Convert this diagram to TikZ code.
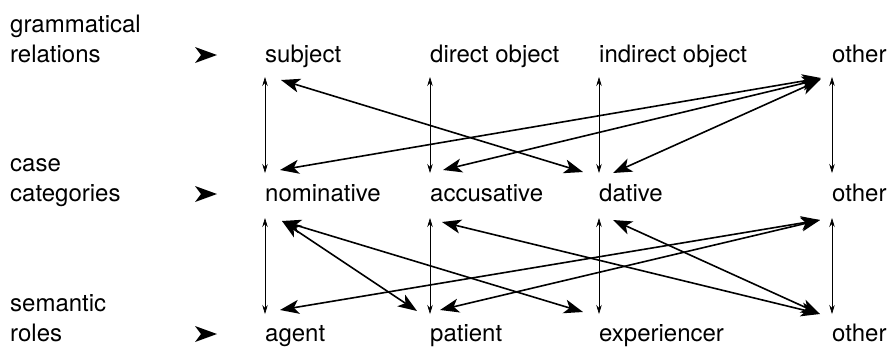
\documentclass[tikz,border=0pt]{standalone}
\usepackage{fontspec}
\setmainfont{TeX Gyre Heros}
\usetikzlibrary{arrows.meta}
\begin{document}
\begin{tikzpicture}[x=1pt,y=-1pt,
  lbl/.style={anchor=base west,inner sep=0pt,font=\fontsize{24}{30}\selectfont},
  side/.style={lbl,align=left},
  link/.style={{Stealth[length=9pt,width=5.5pt]}-{Stealth[length=9pt,width=5.5pt]},line width=0.7pt},
  cross/.style={{Stealth[length=19pt,width=14pt,inset=5pt]}-{Stealth[length=19pt,width=14pt,inset=5pt]},line width=1.6pt},
  pointer/.pic={\fill (-11,-8) -- (11,0) -- (-11,8) -- (-5,0) -- cycle;}]
\useasboundingbox (0,0) rectangle (888,346);

% level labels (anchored on the baseline of their last line)
\node[side] (gr) at (10,62) {grammatical\\relations};
\node[side] (cc) at (10,201) {case\\categories};
\node[side] (sr) at (10,341) {semantic\\roles};
\pic at (206,55) {pointer};
\pic at (206,194) {pointer};
\pic at (206,334) {pointer};

% grammatical relations
\node[lbl] (subj)   at (265,62) {subject};
\node[lbl] (dobj)   at (430,62) {direct object};
\node[lbl] (iobj)   at (599,62) {indirect object};
\node[lbl] (gother) at (832,62) {other};
% case categories
\node[lbl] (nom)    at (265,201) {nominative};
\node[lbl] (acc)    at (430,201) {accusative};
\node[lbl] (dat)    at (599,201) {dative};
\node[lbl] (cother) at (832,201) {other};
% semantic roles
\node[lbl] (agent)  at (265,341) {agent};
\node[lbl] (pat)    at (430,341) {patient};
\node[lbl] (exper)  at (599,341) {experiencer};
\node[lbl] (sother) at (832,341) {other};

% straight correspondences
\foreach \a/\b in {subj/nom,dobj/acc,iobj/dat,gother/cother}
  \draw[link] ([shift={(0,15)}]\a.base west) -- ([shift={(0,-28)}]\b.base west);
\foreach \a/\b in {nom/agent,acc/pat,dat/exper,cother/sother}
  \draw[link] ([shift={(0,17)}]\a.base west) -- ([shift={(0,-27)}]\b.base west);

% crossing correspondences: relations / cases
\draw[cross] ([shift={(16,18)}]subj.base west)    -- ([shift={(-16,-29)}]dat.base west);
\draw[cross] ([shift={(-11,16)}]gother.base west) -- ([shift={(15,-31)}]nom.base west);
\draw[cross] ([shift={(-11,17)}]gother.base west) -- ([shift={(13,-31)}]acc.base west);
\draw[cross] ([shift={(-12,18)}]gother.base west) -- ([shift={(14,-28)}]dat.base west);

% crossing correspondences: cases / roles
\draw[cross] ([shift={(17,20)}]nom.base west)     -- ([shift={(-13,-30)}]pat.base west);
\draw[cross] ([shift={(17,20)}]nom.base west)     -- ([shift={(-16,-29)}]exper.base west);
\draw[cross] ([shift={(12,21)}]acc.base west)     -- ([shift={(-12,-27)}]sother.base west);
\draw[cross] ([shift={(14,19)}]dat.base west)     -- ([shift={(-12,-27)}]sother.base west);
\draw[cross] ([shift={(-12,19)}]cother.base west) -- ([shift={(15,-31)}]agent.base west);
\draw[cross] ([shift={(-12,19)}]cother.base west) -- ([shift={(10,-31)}]pat.base west);
\end{tikzpicture}
\end{document}
